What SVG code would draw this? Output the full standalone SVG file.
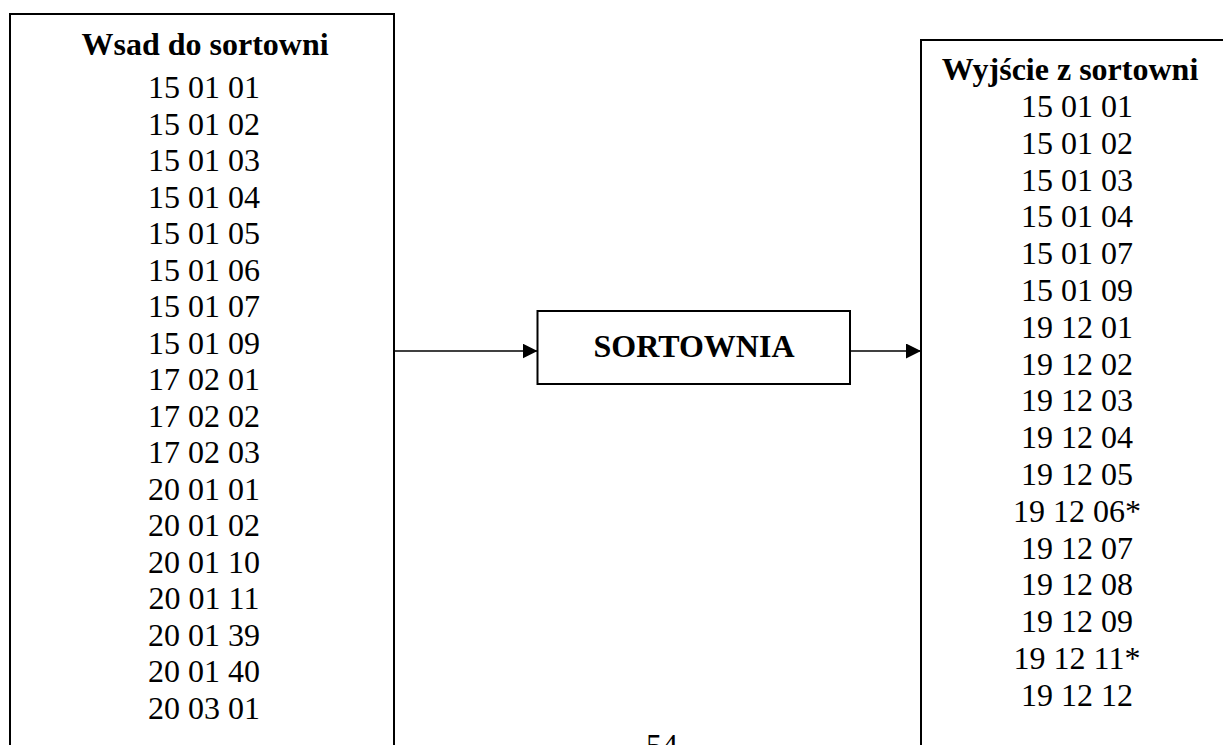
<svg xmlns="http://www.w3.org/2000/svg" width="1223" height="745" viewBox="0 0 1223 745">
<style>
.box{fill:#fff;stroke:#000;stroke-width:2}
.t{font-family:"Liberation Serif","Times New Roman",serif;font-size:32px;fill:#000;text-anchor:middle}
.b{font-weight:bold}
.conn{stroke:#000;stroke-width:1.6;fill:none}
</style>
<defs>
<marker id="ah" markerUnits="userSpaceOnUse" markerWidth="15" markerHeight="15" refX="15" refY="7.5" orient="auto">
<path d="M0,0 L15,7.5 L0,15 Z" fill="#000"/>
</marker>
</defs>
<rect width="1223" height="745" fill="#fff"/>
<g id="input">
<rect class="box" x="10" y="14" width="384" height="760"/>
<text class="t b" x="205" y="55">Wsad do sortowni</text>
<text class="t" x="204" y="98">15 01 01</text>
<text class="t" x="204" y="134.5">15 01 02</text>
<text class="t" x="204" y="171">15 01 03</text>
<text class="t" x="204" y="207.5">15 01 04</text>
<text class="t" x="204" y="244">15 01 05</text>
<text class="t" x="204" y="280.5">15 01 06</text>
<text class="t" x="204" y="317">15 01 07</text>
<text class="t" x="204" y="353.5">15 01 09</text>
<text class="t" x="204" y="390">17 02 01</text>
<text class="t" x="204" y="426.5">17 02 02</text>
<text class="t" x="204" y="463">17 02 03</text>
<text class="t" x="204" y="499.5">20 01 01</text>
<text class="t" x="204" y="536">20 01 02</text>
<text class="t" x="204" y="572.5">20 01 10</text>
<text class="t" x="204" y="609">20 01 11</text>
<text class="t" x="204" y="645.5">20 01 39</text>
<text class="t" x="204" y="682">20 01 40</text>
<text class="t" x="204" y="718.5">20 03 01</text>
</g>
<g id="sortownia">
<rect class="box" x="537.5" y="311" width="312.5" height="73"/>
<text class="t b" x="694" y="357">SORTOWNIA</text>
</g>
<g id="output">
<rect class="box" x="921" y="40" width="340" height="740"/>
<text class="t b" x="1070" y="80">Wyjście z sortowni</text>
<text class="t" x="1077" y="117">15 01 01</text>
<text class="t" x="1077" y="153.8">15 01 02</text>
<text class="t" x="1077" y="190.6">15 01 03</text>
<text class="t" x="1077" y="227.4">15 01 04</text>
<text class="t" x="1077" y="264.2">15 01 07</text>
<text class="t" x="1077" y="301">15 01 09</text>
<text class="t" x="1077" y="337.8">19 12 01</text>
<text class="t" x="1077" y="374.6">19 12 02</text>
<text class="t" x="1077" y="411.4">19 12 03</text>
<text class="t" x="1077" y="448.2">19 12 04</text>
<text class="t" x="1077" y="485">19 12 05</text>
<text class="t" x="1077" y="521.8">19 12 06*</text>
<text class="t" x="1077" y="558.6">19 12 07</text>
<text class="t" x="1077" y="595.4">19 12 08</text>
<text class="t" x="1077" y="632.2">19 12 09</text>
<text class="t" x="1077" y="669">19 12 11*</text>
<text class="t" x="1077" y="705.8">19 12 12</text>
</g>
<g id="connectors">
<line class="conn" x1="394" y1="351" x2="537.5" y2="351" marker-end="url(#ah)"/>
<line class="conn" x1="850" y1="351" x2="921" y2="351" marker-end="url(#ah)"/>
</g>
<text class="t" x="662" y="756">54</text>
</svg>
